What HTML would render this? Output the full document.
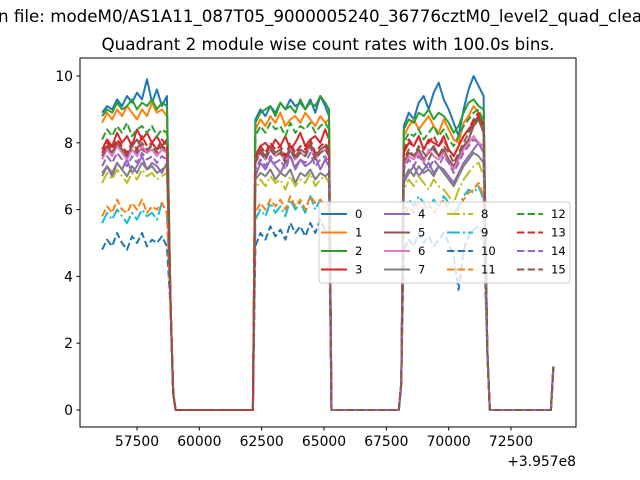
<!DOCTYPE html>
<html><head><meta charset="utf-8"><style>
html,body{margin:0;padding:0;background:#fff;width:640px;height:480px;overflow:hidden}
svg text{font-family:"DejaVu Sans","Liberation Sans",sans-serif}
</style></head><body>
<svg id="chart" width="640" height="480" viewBox="0 0 640 480" xmlns="http://www.w3.org/2000/svg">
<rect width="640" height="480" fill="#fff"/>
<text x="-2" y="22" font-size="16.7" fill="#000">n file: modeM0/AS1A11_087T05_9000005240_36776cztM0_level2_quad_clean.evt</text>
<text x="328" y="50" font-size="16.7" text-anchor="middle" fill="#000">Quadrant 2 module wise count rates with 100.0s bins.</text>
<g id="ticks"></g>
<g id="series" clip-path="url(#clip)"></g>
<defs><clipPath id="clip"><rect x="80" y="58" width="496" height="369"/></clipPath></defs>
<rect x="80" y="58" width="496" height="369" fill="none" stroke="#000" stroke-width="1"/>
<text x="576" y="466" font-size="13.9" text-anchor="end">+3.957e8</text>
<g id="legend"></g>
</svg>
<script>
const times=[56100,56300,56500,56700,56900,57100,57300,57500,57700,57900,58100,58300,58500,58700,58850,58950,59050,62150,62250,62450,62650,62850,63050,63250,63450,63650,63850,64050,64250,64450,64650,64850,65050,65200,65300,68000,68100,68200,68400,68600,68800,69000,69200,69400,69600,69800,70000,70200,70400,70600,70800,71000,71200,71400,71550,71650,74100,74200];
const fallA=[3.0,0.5,0,0];
const fallB=[0,0,0.8];
const fallC=[1.8,0,0,1.3];
const seg1=[
[8.9,9.1,9.0,9.3,9.1,9.4,9.2,9.5,9.3,9.9,9.2,9.6,9.1,9.4],
[8.6,8.9,8.7,9.0,8.8,9.1,8.9,8.7,9.0,8.8,9.2,8.9,9.0,8.8],
[8.8,9.0,8.9,9.2,9.0,9.1,9.3,9.0,9.2,9.1,9.3,9.0,9.2,9.1],
[7.8,8.1,7.9,8.3,8.0,8.2,7.9,8.4,8.1,8.3,8.0,8.2,7.9,8.1],
[7.1,7.3,7.0,7.4,7.2,7.5,7.1,7.3,7.6,7.2,7.4,7.3,7.1,7.4],
[7.6,7.9,7.7,8.0,7.8,7.6,7.9,8.1,7.8,7.7,8.0,7.8,7.9,7.7],
[7.5,7.8,7.6,7.9,7.7,7.5,7.8,7.6,7.9,7.7,7.8,7.6,7.8,7.7],
[7.0,7.3,7.1,7.4,7.2,7.0,7.3,7.1,7.4,7.2,7.3,7.1,7.2,7.3],
[6.8,7.1,6.9,7.2,7.0,6.8,7.1,6.9,7.2,7.0,7.1,6.9,7.0,7.1],
[5.6,5.9,5.7,6.0,5.8,5.6,5.9,5.7,6.0,5.8,5.9,5.7,6.2,5.9],
[4.8,5.1,4.9,5.3,5.0,4.8,5.2,5.0,5.3,4.9,5.1,5.0,5.2,4.9],
[5.8,6.1,5.9,6.3,6.0,5.9,6.2,6.0,6.3,5.9,6.1,6.0,6.2,5.9],
[8.1,8.4,8.2,8.5,8.3,8.6,8.2,8.4,8.5,8.3,8.5,8.2,8.4,8.3],
[7.7,8.0,7.8,8.1,7.9,7.7,8.0,7.8,8.2,7.9,8.0,7.8,8.1,7.9],
[7.3,7.6,7.4,7.7,7.5,7.3,7.6,7.4,7.7,7.5,7.6,7.4,7.6,7.5],
[7.6,7.9,7.7,8.0,7.8,7.6,7.9,7.7,8.0,7.8,7.9,7.7,7.9,7.8]];
const seg2=[
[8.7,9.0,8.8,9.1,8.9,9.2,9.0,9.3,9.1,9.2,9.0,9.3,8.9,9.4,9.1,8.8],
[8.4,8.7,8.5,8.8,8.6,8.9,8.5,8.7,8.8,8.6,8.9,8.7,8.5,8.8,8.6,8.7],
[8.6,8.9,9.0,9.1,8.8,9.2,9.0,9.1,8.9,9.3,9.0,9.2,9.1,9.4,9.2,9.0],
[7.6,7.9,8.0,7.8,8.1,7.9,8.2,7.8,8.0,8.3,7.9,8.1,8.2,8.0,8.4,8.1],
[7.0,7.4,7.2,7.5,7.3,7.1,7.4,7.6,7.2,7.5,7.3,7.4,7.6,7.2,7.5,7.3],
[7.5,7.8,7.6,7.9,7.7,7.8,7.5,7.9,7.6,7.8,7.7,8.0,7.6,7.8,7.9,7.7],
[7.4,7.7,7.5,7.8,7.6,7.7,7.4,7.8,7.5,7.7,7.6,7.9,7.5,7.7,7.8,7.6],
[6.9,7.1,7.0,7.2,6.9,7.1,7.0,7.2,6.8,7.1,7.0,7.2,6.9,7.1,7.0,7.1],
[6.6,6.9,6.7,7.0,6.8,6.9,6.6,7.0,6.7,6.9,6.8,7.1,6.7,6.9,7.0,6.8],
[5.7,6.0,5.8,6.2,5.9,6.1,5.8,6.3,6.0,6.2,5.9,6.4,6.0,6.3,6.1,6.2],
[4.9,5.3,5.1,5.5,5.2,5.4,5.1,5.6,5.3,5.5,5.2,5.6,5.3,5.7,5.4,5.5],
[5.9,6.2,6.0,6.3,6.1,6.3,6.0,6.4,6.1,6.3,6.0,6.4,6.2,6.3,6.1,6.2],
[8.2,8.5,8.3,8.6,8.4,8.5,8.2,8.6,8.3,8.5,8.4,8.6,8.3,8.5,8.6,8.4],
[7.6,7.9,7.7,8.0,7.8,7.9,7.6,8.0,7.7,7.9,7.8,8.1,7.7,7.9,8.0,7.8],
[7.2,7.5,7.3,7.6,7.4,7.5,7.2,7.6,7.3,7.5,7.4,7.7,7.3,7.5,7.6,7.4],
[7.4,7.7,7.5,7.8,7.6,7.7,7.4,7.8,7.5,7.7,7.6,7.9,7.5,7.7,7.8,7.6]];
const seg3=[
[8.5,8.9,8.7,9.2,9.4,9.0,9.5,9.8,9.3,9.0,8.6,8.2,9.0,9.6,10.0,9.7,9.4],
[8.2,8.5,8.7,8.4,8.6,8.8,8.5,8.3,8.7,8.4,8.1,8.0,8.6,8.8,9.1,8.9,8.7],
[8.4,8.7,8.6,8.9,8.8,9.0,8.7,8.9,8.8,8.6,8.3,8.5,8.9,9.2,9.3,9.1,9.0],
[7.7,8.0,7.9,8.2,7.8,8.1,8.0,7.9,8.2,7.8,7.6,7.9,8.2,8.4,8.6,8.8,8.5],
[6.8,7.1,7.3,7.0,7.2,7.4,7.1,7.3,7.2,7.0,6.8,7.1,7.4,7.6,7.8,8.0,7.7],
[7.4,7.7,7.6,7.8,7.5,7.7,7.9,7.6,7.8,7.5,7.3,7.6,7.9,8.1,8.5,8.7,8.3],
[7.3,7.6,7.5,7.7,7.4,7.8,7.6,7.5,7.7,7.4,7.2,7.5,7.8,8.0,8.2,8.0,7.9],
[6.9,7.2,7.0,7.3,7.1,7.2,7.0,7.3,7.1,6.9,6.7,7.0,7.3,7.5,7.7,7.6,7.4],
[6.6,6.9,6.7,7.0,6.8,6.6,6.9,6.7,6.6,6.4,6.2,6.6,6.9,7.1,7.3,7.4,7.0],
[6.0,6.3,6.1,6.4,6.2,6.0,6.3,6.1,6.4,6.2,5.9,6.1,6.4,6.6,6.5,6.7,6.3],
[4.8,5.1,4.9,5.3,5.0,5.2,4.9,5.1,5.3,5.0,4.6,3.6,4.8,5.2,5.4,5.5,5.2],
[5.8,6.1,5.9,6.2,6.0,6.2,5.9,6.1,6.3,6.0,5.8,6.0,6.3,6.5,6.6,6.8,6.4],
[8.0,8.3,8.2,8.4,8.1,8.3,8.5,8.2,8.4,8.1,7.9,8.2,8.5,8.7,8.9,9.0,8.6],
[7.8,8.1,7.9,8.2,7.8,8.0,8.2,7.9,8.1,7.8,7.6,7.9,8.2,8.4,8.7,8.9,8.5],
[7.2,7.5,7.3,7.6,7.4,7.2,7.5,7.3,7.6,7.4,7.1,7.4,7.7,7.9,8.1,8.0,7.7],
[7.5,7.8,7.6,7.9,7.7,7.5,7.8,7.6,7.9,7.7,7.4,7.7,8.0,8.3,8.6,8.8,8.4]];
const xTicks=[57500,60000,62500,65000,67500,70000,72500];
const yTicks=[0,2,4,6,8,10];
const labels=["0","1","2","3","4","5","6","7","8","9","10","11","12","13","14","15"];
const colors=["#1f77b4","#ff7f0e","#2ca02c","#d62728","#9467bd","#8c564b","#e377c2","#7f7f7f","#bcbd22","#17becf","#1f77b4","#ff7f0e","#2ca02c","#d62728","#9467bd","#8c564b"];
function dashFor(i){return i<8?"":(i<10?"12.8,3.2,2,3.2":"7.4,3.2");}
const X=t=>137+(t-57500)*(374/15000);
const Y=v=>410-v*33.4;
const NS="http://www.w3.org/2000/svg";
function mk(tag,attrs,parent){const e=document.createElementNS(NS,tag);for(const k in attrs)e.setAttribute(k,attrs[k]);parent.appendChild(e);return e;}
const tg=document.getElementById('ticks');
xTicks.forEach(t=>{
 const l=mk('line',{x1:X(t),x2:X(t),y1:427,y2:430.5,stroke:'#000','stroke-width':1},tg);
 
 
 const tx=mk('text',{x:X(t),y:446,'font-size':13.9,'text-anchor':'middle'},tg);
 tx.textContent=t;
 
 
});
yTicks.forEach(v=>{
 const l=mk('line',{x1:76.5,x2:80,y1:Y(v),y2:Y(v),stroke:'#000','stroke-width':1},tg);
 
 
 const tx=mk('text',{x:73,y:Y(v)+5,'font-size':13.9,'text-anchor':'end'},tg);
 tx.textContent=v;
 
 
});
const sg=document.getElementById('series');
for(let i=0;i<16;i++){
 const vals=seg1[i].concat(fallA,seg2[i],fallB,seg3[i],fallC);
 const pts=times.map((t,k)=>X(t).toFixed(1)+','+Y(vals[k]).toFixed(1)).join(' ');
 const p=mk('polyline',{points:pts,fill:'none',stroke:colors[i],'stroke-width':2,'stroke-linejoin':'round'},sg);
 if(dashFor(i))p.setAttribute('stroke-dasharray',dashFor(i));
 
 
}
const lg=document.getElementById('legend');
const box=mk('rect',{x:319,y:202,width:251,height:81,rx:3,fill:'#fff','fill-opacity':0.8,stroke:'#ccc','stroke-width':1},lg);


const colX=[321,384,447,517];
const rowY=[214,232.5,251,269.5];
for(let i=0;i<16;i++){
 const c=Math.floor(i/4),r=i%4;
 const ln=mk('line',{x1:colX[c],x2:colX[c]+26,y1:rowY[r],y2:rowY[r],stroke:colors[i],'stroke-width':2},lg);
 if(dashFor(i))ln.setAttribute('stroke-dasharray',dashFor(i));
 
 
 const tx=mk('text',{x:colX[c]+34,y:rowY[r]+4,'font-size':11.6},lg);
 tx.textContent=labels[i];
 
 
}
</script>
</body></html>
